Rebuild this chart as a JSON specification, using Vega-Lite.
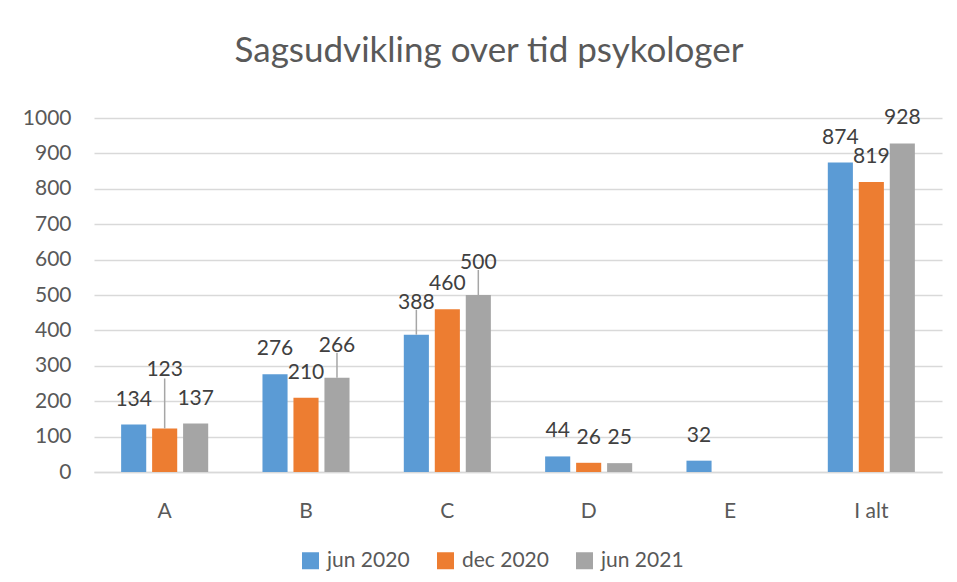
{
  "$schema": "https://vega.github.io/schema/vega-lite/v6.json",
  "autosize": "none",
  "width": 848,
  "height": 354,
  "padding": {"left": 94, "top": 118, "right": 15, "bottom": 110},
  "background": "white",
  "title": {
    "text": "Sagsudvikling over tid psykologer",
    "anchor": "middle",
    "dx": -29,
    "offset": 10,
    "baseline": "alphabetic",
    "font": "Lato",
    "fontSize": 35,
    "fontWeight": "normal",
    "color": "#595959"
  },
  "data": {
    "values": [
      {"kategori": "A", "periode": "jun 2020", "antal": 134},
      {"kategori": "A", "periode": "dec 2020", "antal": 123},
      {"kategori": "A", "periode": "jun 2021", "antal": 137},
      {"kategori": "B", "periode": "jun 2020", "antal": 276},
      {"kategori": "B", "periode": "dec 2020", "antal": 210},
      {"kategori": "B", "periode": "jun 2021", "antal": 266},
      {"kategori": "C", "periode": "jun 2020", "antal": 388},
      {"kategori": "C", "periode": "dec 2020", "antal": 460},
      {"kategori": "C", "periode": "jun 2021", "antal": 500},
      {"kategori": "D", "periode": "jun 2020", "antal": 44},
      {"kategori": "D", "periode": "dec 2020", "antal": 26},
      {"kategori": "D", "periode": "jun 2021", "antal": 25},
      {"kategori": "E", "periode": "jun 2020", "antal": 32},
      {"kategori": "I alt", "periode": "jun 2020", "antal": 874},
      {"kategori": "I alt", "periode": "dec 2020", "antal": 819},
      {"kategori": "I alt", "periode": "jun 2021", "antal": 928}
    ]
  },
  "encoding": {
    "x": {
      "field": "kategori",
      "type": "nominal",
      "sort": ["A", "B", "C", "D", "E", "I alt"],
      "scale": {"paddingInner": 0.384, "paddingOuter": 0.192},
      "axis": {
        "title": null,
        "labelAngle": 0,
        "labelFont": "Lato",
        "labelFontSize": 21,
        "labelColor": "#595959",
        "labelPadding": 28,
        "ticks": false,
        "domain": true,
        "domainColor": "#D9D9D9",
        "domainWidth": 1.5,
        "grid": false
      }
    },
    "xOffset": {
      "field": "periode",
      "type": "nominal",
      "sort": ["jun 2020", "dec 2020", "jun 2021"],
      "scale": {"paddingInner": 0.19, "paddingOuter": 0}
    },
    "y": {
      "field": "antal",
      "type": "quantitative",
      "scale": {"domain": [0, 1000], "nice": false},
      "axis": {
        "title": null,
        "format": "d",
        "values": [0, 100, 200, 300, 400, 500, 600, 700, 800, 900, 1000],
        "labelFont": "Lato",
        "labelFontSize": 21,
        "labelColor": "#595959",
        "labelPadding": 23,
        "ticks": false,
        "domain": false,
        "grid": true,
        "gridColor": "#D9D9D9",
        "gridWidth": 1.5
      }
    }
  },
  "layer": [
    {
      "mark": {"type": "bar"},
      "encoding": {
        "color": {
          "field": "periode",
          "type": "nominal",
          "scale": {
            "domain": ["jun 2020", "dec 2020", "jun 2021"],
            "range": ["#5B9BD5", "#ED7D31", "#A5A5A5"]
          },
          "legend": {
            "title": null,
            "orient": "none",
            "direction": "horizontal",
            "legendX": 206,
            "legendY": 432,
            "symbolType": "square",
            "symbolSize": 289,
            "symbolStrokeWidth": 0,
            "symbolOpacity": 1,
            "labelFont": "Lato",
            "labelFontSize": 21,
            "labelColor": "#595959",
            "labelOffset": 6,
            "columnPadding": 25
          }
        }
      }
    },
    {
      "transform": [
        {"filter": "!(datum.kategori == 'A' && datum.periode == 'dec 2020') && !(datum.kategori == 'B' && datum.periode == 'jun 2021') && !(datum.kategori == 'C' && datum.periode != 'dec 2020')"}
      ],
      "mark": {
        "type": "text",
        "baseline": "alphabetic",
        "dy": -19,
        "font": "Lato",
        "fontSize": 21,
        "color": "#404040"
      },
      "encoding": {
        "text": {"field": "antal", "type": "quantitative"}
      }
    },
    {
      "transform": [
        {"filter": "datum.kategori == 'A' && datum.periode == 'dec 2020'"}
      ],
      "mark": {
        "type": "text",
        "baseline": "alphabetic",
        "dy": -52,
        "font": "Lato",
        "fontSize": 21,
        "color": "#404040"
      },
      "encoding": {
        "text": {"field": "antal", "type": "quantitative"}
      }
    },
    {
      "transform": [
        {"filter": "datum.kategori == 'A' && datum.periode == 'dec 2020'"}
      ],
      "mark": {"type": "rule", "color": "#A6A6A6", "strokeWidth": 1.5, "y2Offset": -50},
      "encoding": {
        "y2": {"field": "antal"}
      }
    },
    {
      "transform": [
        {"filter": "(datum.kategori == 'B' && datum.periode == 'jun 2021') || (datum.kategori == 'C' && datum.periode != 'dec 2020')"}
      ],
      "mark": {
        "type": "text",
        "baseline": "alphabetic",
        "dy": -26,
        "font": "Lato",
        "fontSize": 21,
        "color": "#404040"
      },
      "encoding": {
        "text": {"field": "antal", "type": "quantitative"}
      }
    },
    {
      "transform": [
        {"filter": "(datum.kategori == 'B' && datum.periode == 'jun 2021') || (datum.kategori == 'C' && datum.periode != 'dec 2020')"}
      ],
      "mark": {"type": "rule", "color": "#A6A6A6", "strokeWidth": 1.5, "y2Offset": -25},
      "encoding": {
        "y2": {"field": "antal"}
      }
    }
  ],
  "config": {
    "view": {"stroke": null}
  }
}
